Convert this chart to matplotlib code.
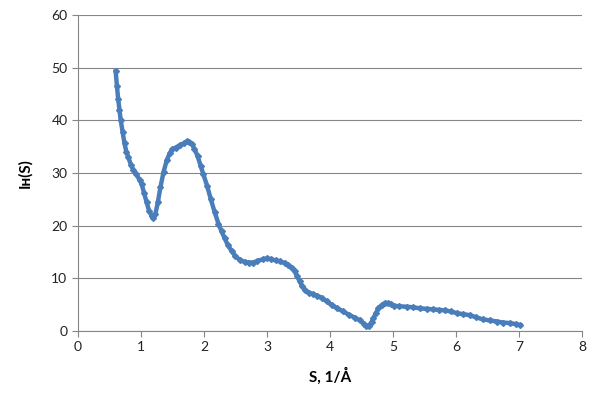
import matplotlib
matplotlib.use("Agg")
import matplotlib.pyplot as plt

# S, 1/A  and I(S)
s = [0.60, 0.62, 0.64, 0.66, 0.68, 0.71, 0.74, 0.77, 0.80, 0.84, 0.88, 0.93, 0.98, 1.01,
     1.05, 1.09, 1.13, 1.17, 1.20, 1.23, 1.27, 1.31, 1.36, 1.41, 1.46, 1.50, 1.55, 1.62,
     1.68, 1.73, 1.77, 1.81, 1.85, 1.90, 1.95, 1.99, 2.05, 2.11, 2.17, 2.23, 2.28, 2.33,
     2.38, 2.44, 2.50, 2.57, 2.65, 2.72, 2.78, 2.85, 2.93, 3.00, 3.07, 3.14, 3.21, 3.28,
     3.34, 3.40, 3.44, 3.48, 3.52, 3.56, 3.60, 3.66, 3.73, 3.80, 3.87, 3.95, 4.03, 4.12,
     4.21, 4.30, 4.40, 4.48, 4.54, 4.58, 4.62, 4.66, 4.69, 4.73, 4.77, 4.82, 4.87, 4.92,
     4.97, 5.01, 5.10, 5.22, 5.32, 5.43, 5.54, 5.64, 5.73, 5.83, 5.92, 6.01, 6.11, 6.22,
     6.32, 6.43, 6.54, 6.65, 6.75, 6.86, 6.95, 7.02]
i_s = [49.3, 46.5, 44.0, 42.0, 40.0, 37.8, 35.6, 34.0, 33.0, 31.6, 30.6, 29.8, 28.6, 28.0,
       26.2, 24.5, 22.8, 21.9, 21.5, 22.2, 24.5, 27.3, 30.2, 32.4, 33.8, 34.5, 34.8, 35.3,
       35.6, 36.0, 35.9, 35.5, 34.6, 33.2, 31.3, 29.8, 27.6, 25.0, 22.6, 20.4, 18.9, 17.6,
       16.3, 15.2, 14.2, 13.5, 13.1, 13.0, 13.0, 13.3, 13.6, 13.8, 13.6, 13.4, 13.2, 12.9,
       12.5, 12.0, 11.3, 10.4, 9.4, 8.5, 7.8, 7.3, 7.0, 6.7, 6.3, 5.6, 4.9, 4.3,
       3.7, 3.1, 2.5, 2.0, 1.3, 0.95, 1.0, 1.7, 2.4, 3.4, 4.3, 4.9, 5.3, 5.3,
       5.1, 4.8, 4.7, 4.6, 4.5, 4.3, 4.2, 4.1, 4.0, 3.9, 3.7, 3.4, 3.2, 3.0,
       2.6, 2.2, 2.0, 1.8, 1.6, 1.5, 1.3, 1.1]

x_ticks = [0, 1, 2, 3, 4, 5, 6, 7, 8]
y_ticks = [0, 10, 20, 30, 40, 50, 60]

plt.rcParams['font.family'] = ['Lato', 'DejaVu Sans']
grey = "#868686"
blue = "#4a7ebb"

fig = plt.figure(figsize=(5.99, 4.03), dpi=100)
ax = fig.add_axes([0.130, 0.1787, 0.8416, 0.7841])

ax.plot(s, i_s, color=blue, lw=3.2, marker="D", ms=3.0, mec=blue, mfc=blue,
        solid_joinstyle="round", zorder=3)

ax.set_xlim(0, 8)
ax.set_ylim(0, 60)
ax.set_xticks(x_ticks)
ax.set_yticks(y_ticks)
ax.yaxis.grid(True, color=grey, lw=0.8)
ax.set_axisbelow(True)

for side in ["top", "right"]:
    ax.spines[side].set_visible(False)
for side in ["left", "bottom"]:
    ax.spines[side].set_color(grey)
    ax.spines[side].set_linewidth(0.8)
ax.tick_params(axis="both", colors=grey, length=4, width=0.8, direction="out",
               labelsize=10, labelcolor="#222222")

ax.set_xlabel("S, 1/Å", fontsize=11, fontweight="bold", labelpad=10)
ax.set_ylabel("Iн(S)", fontsize=11, fontweight="bold", labelpad=14)

fig.savefig("out.png", dpi=100)
